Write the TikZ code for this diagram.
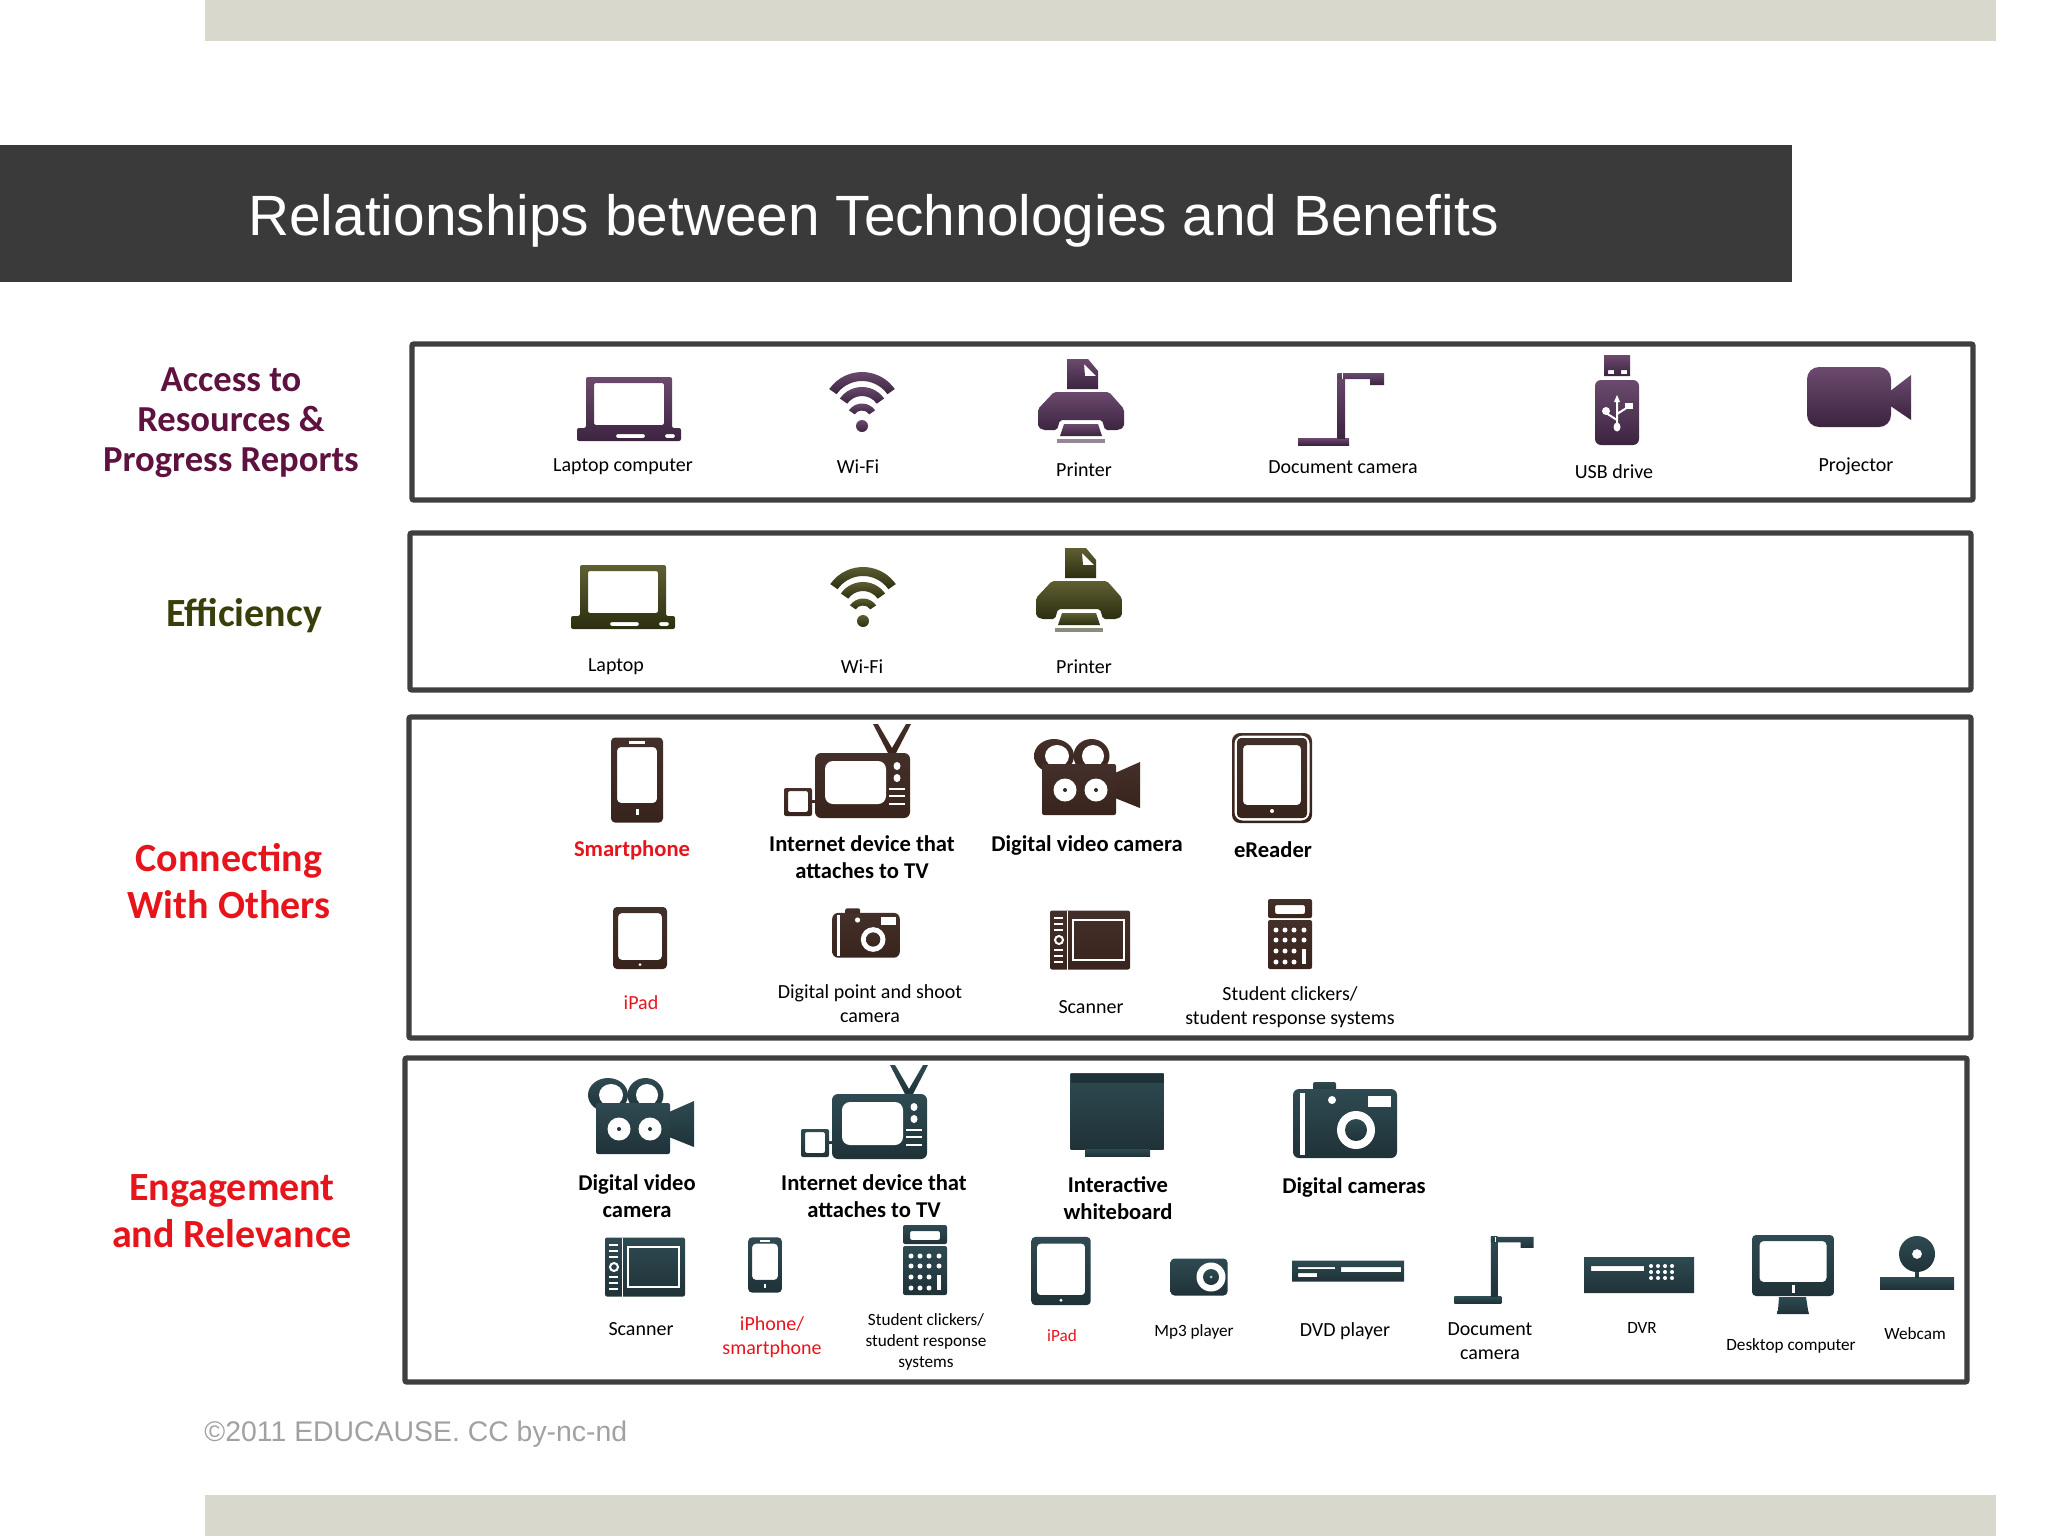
\documentclass[tikz,border=0pt]{standalone}
\usepackage{fontspec}
\setmainfont{Carlito}
\newfontfamily\arialfont{Liberation Sans}
\definecolor{barcol}{HTML}{D8D9CC}
\definecolor{titlecol}{HTML}{3A3A3A}
\definecolor{framecol}{HTML}{3F3F3F}
\definecolor{plumtext}{HTML}{5E1240}
\definecolor{olivetext}{HTML}{3A3F0A}
\definecolor{redtext}{HTML}{E8141C}
\begin{document}
\begin{tikzpicture}[
    x=0.5pt, y=-0.5pt,
    % define styles
    band/.style={draw=framecol, line width=2.7pt, rounded corners=1pt},
    tag/.style={font=\fontsize{10}{12}\selectfont, align=center, inner sep=0, yshift=-0.4pt},
    tagb/.style={font=\fontsize{11.3}{13.2}\selectfont\bfseries, align=center, inner sep=0},
    tagsm/.style={font=\fontsize{8.6}{10.5}\selectfont, align=center, inner sep=0, yshift=-0.4pt},
    benefit/.style={font=\fontsize{20}{23.5}\selectfont\bfseries, align=center, inner sep=0},
    ink/.style={top color=inktop, bottom color=inkbot, draw=none},
    hole/.style={fill=white, draw=none},
    inkplum/.code={\definecolor{inktop}{HTML}{6B4A6E}\definecolor{inkbot}{HTML}{3C2440}},
    inkolive/.code={\definecolor{inktop}{HTML}{5F5F33}\definecolor{inkbot}{HTML}{2C2E0F}},
    inkcocoa/.code={\definecolor{inktop}{HTML}{44302A}\definecolor{inkbot}{HTML}{38241C}},
    inkslate/.code={\definecolor{inktop}{HTML}{2F4A52}\definecolor{inkbot}{HTML}{1F3238}},
    % icons, drawn round their centre
    laptop/.pic={
        \path[ink, even odd rule, rounded corners=1pt] (-43,-32) -- (43,-32) -- (43,19) -- (52,19) -- (52,32)
            -- (-52,32) -- (-52,19) -- (-43,19) -- cycle
            (-35,-26) rectangle (35,16) (-13,25) rectangle (16,29) (36,25) rectangle (46,29);
    },
    wifi/.pic={
        \foreach \cy/\ro/\ri in {10/40/31,12/27/18,17.5/16/9}
            \path[ink, shift={(0,\cy)}] (215:\ro) arc[start angle=215, end angle=325, radius=\ro]
                -- (325:\ri) arc[start angle=325, end angle=215, radius=\ri] -- cycle;
        \path[ink] (0,24) circle[radius=6];
    },
    printer/.pic={
        \path[ink, even odd rule] (-14,-42) -- (7,-42) -- (17,-30) -- (17,-12) -- (-14,-12) -- cycle
            (3,-37) -- (4,-25) -- (15,-25) -- cycle;
        \path[ink, rounded corners=1pt] (-27,-9) -- (28,-9) -- (43,8) -- (43,26) -- (38,29) -- (24,29) -- (21,19)
            -- (-21,19) -- (-24,29) -- (-38,29) -- (-43,26) -- (-43,8) -- cycle;
        \path[ink] (-17,23) -- (17,23) -- (21,35) -- (-21,35) -- cycle;
        \path[fill=inkbot!55] (-24,38) rectangle (24,42);
    },
    doccam/.pic={
        \path[ink] (-43,29) rectangle (8,36);
        \path[ink] (-3.5,-36) rectangle (4,29);
        \path[ink] (-3.5,-36) -- (43,-36) -- (43,-24) -- (29,-24) -- (29,-30) -- (-3.5,-30) -- cycle;
        \path[hole] (1,-36) rectangle (2,-30);
    },
    usbdrive/.pic={
        \path[ink, even odd rule] (-13,-45) rectangle (13,-24) (-9,-30) rectangle (-3,-26) (4,-30) rectangle (10,-26);
        \path[ink, rounded corners=3pt] (-22,-20) rectangle (22,45);
        \draw[white, line width=1pt] (0,-1) -- (0,26) (0,20) -- (-11,13) (0,14) -- (11,7);
        \path[hole] (0,-5) -- (-3,2) -- (3,2) -- cycle;
        \path[hole] (0,27) ellipse[x radius=3.5, y radius=4.5];
        \path[hole] (-11,11) circle[radius=4];
        \path[hole] (8,3) rectangle (16,9);
    },
    projector/.pic={
        \path[ink, rounded corners=6pt] (-52,-30) rectangle (32,30);
        \path[ink] (30,-5) -- (52,-22) -- (52,23) -- (30,8) -- cycle;
    },
    phone/.pic={
        \path[ink, even odd rule, rounded corners=2pt] (-26,-42.5) rectangle (26,42.5) (-20,-33) rectangle (20,23);
        \path[hole] (-8,-39) rectangle (8,-36);
        \path[hole] (-1.5,29) rectangle (1.5,35);
    },
    tvset/.pic={
        \path[ink] (41,-18) -- (26,-47) -- (31,-47) -- (45,-23) -- (59,-47) -- (64,-47) -- (49,-18) -- cycle;
        \path[ink, rounded corners=3pt] (-32,-18) rectangle (63,47);
        \path[hole, rounded corners=4pt] (-22,-10) rectangle (39,33);
        \foreach \ky in {-5,7}
            \path[hole] (50,\ky) ellipse[x radius=3.5, y radius=4];
        \foreach \ky in {18,25,33}
            \path[hole] (42,\ky-1) rectangle (58,\ky+1);
        \path[ink] (-36,29) rectangle (-32,31);
        \path[ink, even odd rule, rounded corners=1pt] (-63,17) rectangle (-35,45) (-59,20) rectangle (-39,41);
    },
    videocam/.pic={
        \path[ink] (-33,-21) ellipse[x radius=20, y radius=17];
        \path[ink] (4.5,-21) ellipse[x radius=18, y radius=17];
        \path[hole] (-30,-21) ellipse[x radius=12, y radius=11];
        \path[hole] (6,-21) ellipse[x radius=11, y radius=11];
        \path[ink, rounded corners=1pt] (-45,-13) rectangle (29,38);
        \path[ink] (28,-4) -- (53,-15) -- (53,31) -- (28,21) -- cycle;
        \foreach \wx in {-22,9} {
            \path[hole] (\wx,13) circle[radius=11.5];
            \path[fill=inkbot] (\wx,13) circle[radius=2];
        }
    },
    tablet/.pic={
        \path[ink, even odd rule, rounded corners=2pt] (-27,-31) rectangle (27,31) (-22,-25) rectangle (22,22);
        \path[hole] (0,26.5) circle[radius=1.5];
    },
    ereader/.pic={
        \path[ink, even odd rule, rounded corners=4pt] (-40,-45) rectangle (40,45) (-37.5,-42.5) rectangle (37.5,42.5);
        \path[ink, even odd rule, rounded corners=2pt] (-35,-40) rectangle (35,40) (-29,-33) rectangle (29,27);
        \path[hole] (0,33) circle[radius=2];
    },
    snapcam/.pic={
        \path[ink, rounded corners=1pt] (-32,-38) rectangle (-9,-25);
        \path[ink, rounded corners=3pt] (-52,-31) rectangle (52,38);
        \path[hole] (-45,-27) rectangle (-40,35);
        \path[hole] (23,-24) rectangle (46,-13);
        \path[hole] (-13,-20) circle[radius=4];
        \path[hole] (11,10) circle[radius=19];
        \path[ink] (11,10) circle[radius=11];
    },
    scanner/.pic={
        \path[ink, rounded corners=1pt] (-40,-29.5) rectangle (40,29.5);
        \path[hole] (-23.5,-29.5) rectangle (-22.5,29.5);
        \draw[white, line width=0.8pt] (-17,-20) rectangle (34,20);
        \foreach \by in {-22,-16,-10,10,16,22}
            \path[hole] (-36,\by-1) rectangle (-27,\by+1);
        \draw[white, line width=1pt] (-31,0) circle[radius=4];
    },
    clicker/.pic={
        \path[ink, even odd rule, rounded corners=1pt] (-22,-35) rectangle (22,-16) (-15,-29) rectangle (15,-20);
        \path[ink, rounded corners=1pt] (-22,-14) rectangle (22,35);
        \foreach \ky in {-4,6,17,28}
            \foreach \kx in {-14,-5,4}
                \path[hole] (\kx,\ky) circle[radius=2.5];
        \foreach \ky in {-4,6}
            \path[hole] (14,\ky) circle[radius=2.5];
        \path[hole] (12,15) rectangle (16,30);
    },
    whiteboard/.pic={
        \path[ink] (-46.5,-41.5) rectangle (46.5,34);
        \path[fill=inkbot] (-46.5,-41.5) rectangle (46.5,-32);
        \path[ink] (-32,34) rectangle (33,41.5);
    },
    musicbox/.pic={
        \path[ink, rounded corners=2pt] (-28.5,-18.5) rectangle (28.5,18.5);
        \path[hole] (12,0) circle[radius=14.5];
        \path[ink] (12,0) circle[radius=8];
        \path[fill=white!70!inktop] (12,0) circle[radius=1.5];
    },
    dvdbox/.pic={
        \path[ink, even odd rule] (-56,-10.5) rectangle (56,10.5) (-7,-4) rectangle (53,1)
            (-50,-4) rectangle (-13,-2) (-50,2) rectangle (-31,6);
    },
    dvrbox/.pic={
        \path[ink, even odd rule] (-55,-18) rectangle (55,18) (-48,-9) rectangle (5,-4);
        \foreach \ky in {-9,-3,3}
            \foreach \kx in {12,19,26,33}
                \path[hole] (\kx,\ky) circle[radius=2];
    },
    desktop/.pic={
        \path[ink, even odd rule, rounded corners=2pt] (-41,-39) rectangle (41,22) (-33.5,-33) rectangle (33.5,8);
        \path[hole] (-1,11) rectangle (2,19);
        \path[ink] (-14,23) -- (13,23) -- (15,36) -- (16,40) -- (-16,40) -- (-15,36) -- cycle;
    },
    webcam/.pic={
        \path[ink] (-37,15) rectangle (37,27);
        \path[ink] (-1.5,8) rectangle (1.5,15);
        \path[ink, even odd rule] (0,-8) circle[radius=18] (0,-8) circle[radius=5];
    }
]
\useasboundingbox (0,0) rectangle (2048,1536);

% bars and title
\fill[barcol] (205,0) rectangle (1996,41);
\fill[barcol] (205,1495) rectangle (1996,1536);
\fill[titlecol] (0,145) rectangle (1792,282);
\node[anchor=west, inner sep=0, text=white, font=\fontsize{28.4}{34}\arialfont] (title) at (248,221) {Relationships between Technologies and Benefits};
\node[anchor=west, inner sep=0, text=black!37, font=\fontsize{14.2}{18}\arialfont] (rights) at (204,1434) {©2011 EDUCAUSE. CC by-nc-nd};

% frames
\draw[band] (412,344) rectangle (1973,500);
\draw[band] (410,533) rectangle (1971,690);
\draw[band] (409,717) rectangle (1971,1038);
\draw[band] (405,1058) rectangle (1967,1382);

% benefit names
\node[benefit, text=plumtext, font=\fontsize{18.3}{20}\selectfont\bfseries] (access) at (231,423) {Access to\\Resources \&\\Progress Reports};
\node[benefit, text=olivetext] (efficiency) at (244,616) {Efficiency};
\node[benefit, text=redtext] (connect) at (229,881) {Connecting\\With Others};
\node[benefit, text=redtext] (engage) at (232,1211) {Engagement\\and Relevance};

% first row
\begin{scope}[inkplum]
\pic (laptopa) at (629,409) {laptop};
\pic (wifia) at (862,402) {wifi};
\pic (printera) at (1081,401) {printer};
\pic (doccama) at (1341,409) {doccam};
\pic (usb) at (1617,400) {usbdrive};
\pic (proj) at (1859,397) {projector};
\end{scope}
\node[tag] (taglaptopa) at (623,466) {Laptop computer};
\node[tag] (tagwifia) at (858,466) {Wi-Fi};
\node[tag] (tagprintera) at (1084,469) {Printer};
\node[tag] (tagdoccama) at (1343,466) {Document camera};
\node[tag] (tagusb) at (1614,471) {USB drive};
\node[tag] (tagproj) at (1856,466) {Projector};

% second row
\begin{scope}[inkolive]
\pic (laptopb) at (623,597) {laptop};
\pic (wifib) at (863,597) {wifi};
\pic (printerb) at (1079,590) {printer};
\end{scope}
\node[tag] (taglaptopb) at (616,666) {Laptop};
\node[tag] (tagwifib) at (862,666) {Wi-Fi};
\node[tag] (tagprinterb) at (1084,666) {Printer};

% third row
\begin{scope}[inkcocoa]
\pic (phonec) at (637,780) {phone};
\pic (tvc) at (847,771) {tvset};
\pic (videoc) at (1087,777) {videocam};
\pic (reader) at (1272,778) {ereader};
\pic (ipadc) at (640,938) {tablet};
\pic[scale=.65] (camc) at (866,933) {snapcam};
\pic (scanc) at (1090,940) {scanner};
\pic (clickc) at (1290,934) {clicker};
\end{scope}
\node[tagb, text=redtext] (tagphonec) at (632,850) {Smartphone};
\node[tagb] (tagtvc) at (862,857) {Internet device that\\attaches to TV};
\node[tagb] (tagvideoc) at (1087,845) {Digital video camera};
\node[tagb] (tagreader) at (1273,850) {eReader};
\node[tag, text=redtext] (tagipadc) at (641,1002) {iPad};
\node[tag] (tagcamc) at (870,1003) {Digital point and shoot\\camera};
\node[tag] (tagscanc) at (1091,1006) {Scanner};
\node[tag] (tagclickc) at (1290,1006) {Student clickers/\\student response systems};

% fourth row
\begin{scope}[inkslate]
\pic (videod) at (641,1116) {videocam};
\pic (tvd) at (864,1112) {tvset};
\pic (board) at (1117,1115) {whiteboard};
\pic (camd) at (1345,1120) {snapcam};
\pic (scand) at (645,1267) {scanner};
\pic[scale=.65] (phoned) at (765,1265) {phone};
\pic (clickd) at (925,1260) {clicker};
\pic[scale=1.1] (ipadd) at (1061,1271) {tablet};
\pic (mp3) at (1199,1277) {musicbox};
\pic (dvd) at (1348,1271) {dvdbox};
\pic[scale=.92] (doccamd) at (1494,1270) {doccam};
\pic (dvr) at (1639,1275) {dvrbox};
\pic (desk) at (1793,1274) {desktop};
\pic (cam) at (1917,1262) {webcam};
\end{scope}
\node[tagb] (tagvideod) at (637,1196) {Digital video\\camera};
\node[tagb] (tagtvd) at (874,1196) {Internet device that\\attaches to TV};
\node[tagb] (tagboard) at (1118,1198) {Interactive\\whiteboard};
\node[tagb] (tagcamd) at (1354,1187) {Digital cameras};
\node[tag] (tagscand) at (641,1328) {Scanner};
\node[tag, text=redtext] (tagphoned) at (772,1336) {iPhone/\\smartphone};
\node[tagsm] (tagclickd) at (926,1341) {Student clickers/\\student response\\systems};
\node[tagsm, text=redtext] (tagipadd) at (1062,1335) {iPad};
\node[tagsm] (tagmp3) at (1194,1331) {Mp3 player};
\node[tag] (tagdvd) at (1345,1330) {DVD player};
\node[tag] (tagdoccamd) at (1490,1340) {Document\\camera};
\node[tagsm] (tagdvr) at (1642,1327) {DVR};
\node[tagsm] (tagdesk) at (1791,1345) {Desktop computer};
\node[tagsm] (tagcam) at (1915,1333) {Webcam};
\end{tikzpicture}
\end{document}
